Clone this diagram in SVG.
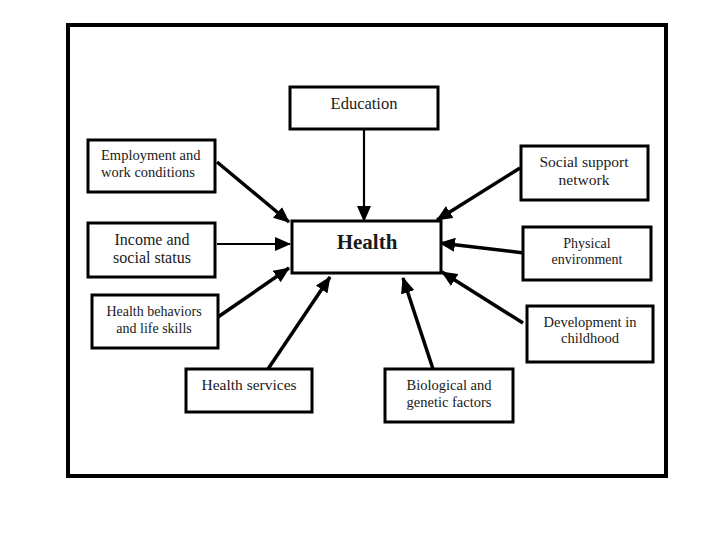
<svg xmlns="http://www.w3.org/2000/svg" width="720" height="540" viewBox="0 0 720 540">
<style>
.box{fill:#fff;stroke:#000;stroke-width:3}
.t{font-family:"Liberation Serif","Times New Roman",serif;fill:#1a1a1a;text-anchor:middle}
.c{stroke:#000;stroke-width:3.5;fill:none}
.thin{stroke-width:2.2}
</style>
<defs>
<marker id="ah" viewBox="0 0 16 14" refX="15" refY="7" markerWidth="16" markerHeight="14" markerUnits="userSpaceOnUse" orient="auto">
<path d="M0,0 L16,7 L0,14 z" fill="#000"/>
</marker>
</defs>
<rect x="0" y="0" width="720" height="540" fill="#fff"/>
<rect x="68" y="25" width="598" height="451" fill="none" stroke="#000" stroke-width="4"/>

<g id="connectors">
<line class="c thin" x1="364" y1="129" x2="364" y2="221" marker-end="url(#ah)"/>
<line class="c" x1="217" y1="162" x2="289" y2="222" marker-end="url(#ah)"/>
<line class="c thin" x1="217" y1="244" x2="290" y2="244" marker-end="url(#ah)"/>
<line class="c" x1="218" y1="317" x2="289" y2="268" marker-end="url(#ah)"/>
<line class="c" x1="268" y1="369" x2="330" y2="277" marker-end="url(#ah)"/>
<line class="c" x1="433" y1="369" x2="403" y2="278" marker-end="url(#ah)"/>
<line class="c" x1="523" y1="323" x2="442" y2="272" marker-end="url(#ah)"/>
<line class="c" x1="524" y1="253" x2="440" y2="243" marker-end="url(#ah)"/>
<line class="c" x1="520" y1="168" x2="437" y2="220" marker-end="url(#ah)"/>
</g>

<g id="health">
<rect class="box" x="292" y="221" width="149" height="52"/>
<text class="t" x="367" y="249" font-size="21" font-weight="bold">Health</text>
</g>
<g id="education">
<rect class="box" x="290" y="87" width="148" height="42"/>
<text class="t" x="364" y="109" font-size="16.5">Education</text>
</g>
<g id="employment">
<rect class="box" x="88" y="140" width="127" height="52"/>
<text class="t" x="101" y="160" font-size="14.5" style="text-anchor:start">Employment  and</text>
<text class="t" x="101" y="177" font-size="14.5" style="text-anchor:start">work conditions</text>
</g>
<g id="income">
<rect class="box" x="88" y="223" width="127" height="54"/>
<text class="t" x="152" y="245" font-size="16">Income and</text>
<text class="t" x="152" y="263" font-size="16">social status</text>
</g>
<g id="behaviors">
<rect class="box" x="92" y="295" width="126" height="53"/>
<text class="t" x="154" y="316" font-size="14">Health behaviors</text>
<text class="t" x="154" y="333" font-size="14">and life skills</text>
</g>
<g id="services">
<rect class="box" x="186" y="369" width="126" height="43"/>
<text class="t" x="249" y="390" font-size="15.5">Health services</text>
</g>
<g id="biological">
<rect class="box" x="385" y="369" width="128" height="53"/>
<text class="t" x="449" y="390" font-size="14.5">Biological and</text>
<text class="t" x="449" y="407" font-size="14.5">genetic factors</text>
</g>
<g id="development">
<rect class="box" x="527" y="306" width="126" height="56"/>
<text class="t" x="590" y="327" font-size="14.5">Development in</text>
<text class="t" x="590" y="343" font-size="14.5">childhood</text>
</g>
<g id="physical">
<rect class="box" x="523" y="227" width="128" height="53"/>
<text class="t" x="587" y="248" font-size="14">Physical</text>
<text class="t" x="587" y="264" font-size="14">environment</text>
</g>
<g id="social">
<rect class="box" x="521" y="146" width="127" height="54"/>
<text class="t" x="584" y="167" font-size="15.5">Social support</text>
<text class="t" x="584" y="185" font-size="15.5">network</text>
</g>
</svg>
